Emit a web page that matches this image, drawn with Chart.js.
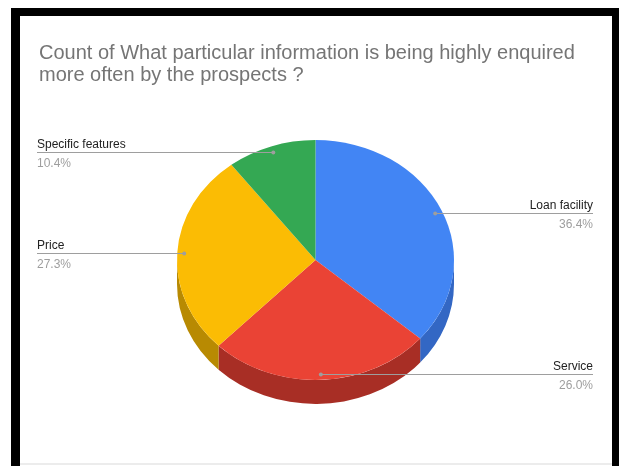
<!DOCTYPE html>
<html lang="en">
  <head>
    <meta charset="UTF-8">
    <meta name="viewport" content="width=device-width, initial-scale=1.0" />
    <title>Prospect enquiries</title>
    <script src="https://cdn.jsdelivr.net/npm/chart.js@4.4.0/dist/chart.umd.min.js"></script>
    <style>
      body { margin: 0; background: #fff; }
      #wrap { position: relative; width: 619px; height: 466px; overflow: hidden; }
      #myChart { position: absolute; left: 0; top: 0; }
      #frame { position: absolute; left: 11px; top: 8px; right: 0; bottom: -20px;
               border-left: 9px solid #000; border-top: 8px solid #000; border-right: 7px solid #000;
               pointer-events: none; }
      #baseLine { position: absolute; left: 20px; right: 7px; top: 463px; height: 2px; background: #ececec; }
    </style>
  </head>
  <body>
    <div id="wrap">
      <canvas id="myChart" width="619" height="466"></canvas>
      <div id="baseLine"></div>
      <div id="frame"></div>
    </div>

    <script>
      const titleLines = [
        'Count of What particular information is being highly enquired',
        'more often by the prospects ?'
      ];
      const categories = ['Loan facility', 'Service', 'Price', 'Specific features'];
      const counts = [28, 20, 21, 8];

      const topColors = ['#4285f4', '#ea4335', '#fbbc04', '#34a853'];
      const sideColors = ['#3367c4', '#a82e25', '#b88a02', '#24773b'];
      const FONT = '"Liberation Sans", Arial, sans-serif';

      const TILT = 0.866;  // vertical squash of the pie
      const DEPTH = 24;    // rim thickness in screen px

      // squash the pie into an ellipse and draw the rim underneath it
      const pie3d = {
        id: 'pie3d',
        beforeDatasetsDraw(chart) {
          const ctx = chart.ctx;
          const arcs = chart.getDatasetMeta(0).data;
          const { x, y } = arcs[0].getProps(['x', 'y']);
          ctx.save();
          ctx.translate(x, y);
          ctx.scale(1, TILT);
          ctx.translate(-x, -y);
          const drop = DEPTH / TILT;
          arcs.forEach((arc, i) => {
            const p = arc.getProps(['startAngle', 'endAngle', 'outerRadius']);
            // only the front half of the rim shows
            const a0 = Math.max(p.startAngle, 0);
            const a1 = Math.min(p.endAngle, Math.PI);
            if (a1 <= a0) return;
            ctx.beginPath();
            ctx.arc(x, y, p.outerRadius, a0, a1);
            ctx.arc(x, y + drop, p.outerRadius, a1, a0, true);
            ctx.closePath();
            ctx.fillStyle = sideColors[i];
            ctx.fill();
          });
        },
        afterDatasetsDraw(chart) {
          chart.ctx.restore();
        }
      };

      // title plus outside labels with leader lines
      const pieLabels = {
        id: 'pieLabels',
        afterDraw(chart) {
          const ctx = chart.ctx;
          ctx.save();
          ctx.textBaseline = 'alphabetic';
          ctx.font = '20px ' + FONT;
          ctx.fillStyle = '#757575';
          ctx.textAlign = 'left';
          titleLines.forEach((t, i) => ctx.fillText(t, 39, 59 + i * 22));

          const total = counts.reduce((a, b) => a + b, 0);
          const arcs = chart.getDatasetMeta(0).data;
          ctx.font = '12px ' + FONT;
          arcs.forEach((arc, i) => {
            const p = arc.getProps(['x', 'y', 'startAngle', 'endAngle', 'outerRadius']);
            const mid = (p.startAngle + p.endAngle) / 2;
            const dx = p.x + Math.cos(mid) * p.outerRadius * 0.95;
            const dy = Math.round(p.y + Math.sin(mid) * p.outerRadius * 0.95 * TILT) + 0.5;
            const left = dx < p.x;
            const edge = left ? 37 : 593;

            ctx.strokeStyle = '#9e9e9e';
            ctx.lineWidth = 1;
            ctx.beginPath();
            ctx.moveTo(dx, dy);
            ctx.lineTo(edge, dy);
            ctx.stroke();
            ctx.fillStyle = '#9e9e9e';
            ctx.beginPath();
            ctx.arc(dx, dy, 2, 0, Math.PI * 2);
            ctx.fill();

            ctx.textAlign = left ? 'left' : 'right';
            ctx.fillStyle = '#222';
            ctx.fillText(categories[i], edge, dy - 4.5);
            ctx.fillStyle = '#9e9e9e';
            ctx.fillText((counts[i] / total * 100).toFixed(1) + '%', edge, dy + 14.5);
          });
          ctx.restore();
        }
      };

      const ctx = document.getElementById('myChart').getContext('2d');
      const myChart = new Chart(ctx, {
        type: 'pie',
        data: {
          labels: categories,
          datasets: [{
            data: counts,
            backgroundColor: topColors,
            borderWidth: 0
          }]
        },
        options: {
          responsive: false,
          animation: false,
          events: [],
          layout: { padding: { left: 177, right: 165, top: 100, bottom: 46 } },
          plugins: {
            legend: { display: false },
            tooltip: { enabled: false }
          }
        },
        plugins: [pie3d, pieLabels]
      });
    </script>
  </body>
</html>
